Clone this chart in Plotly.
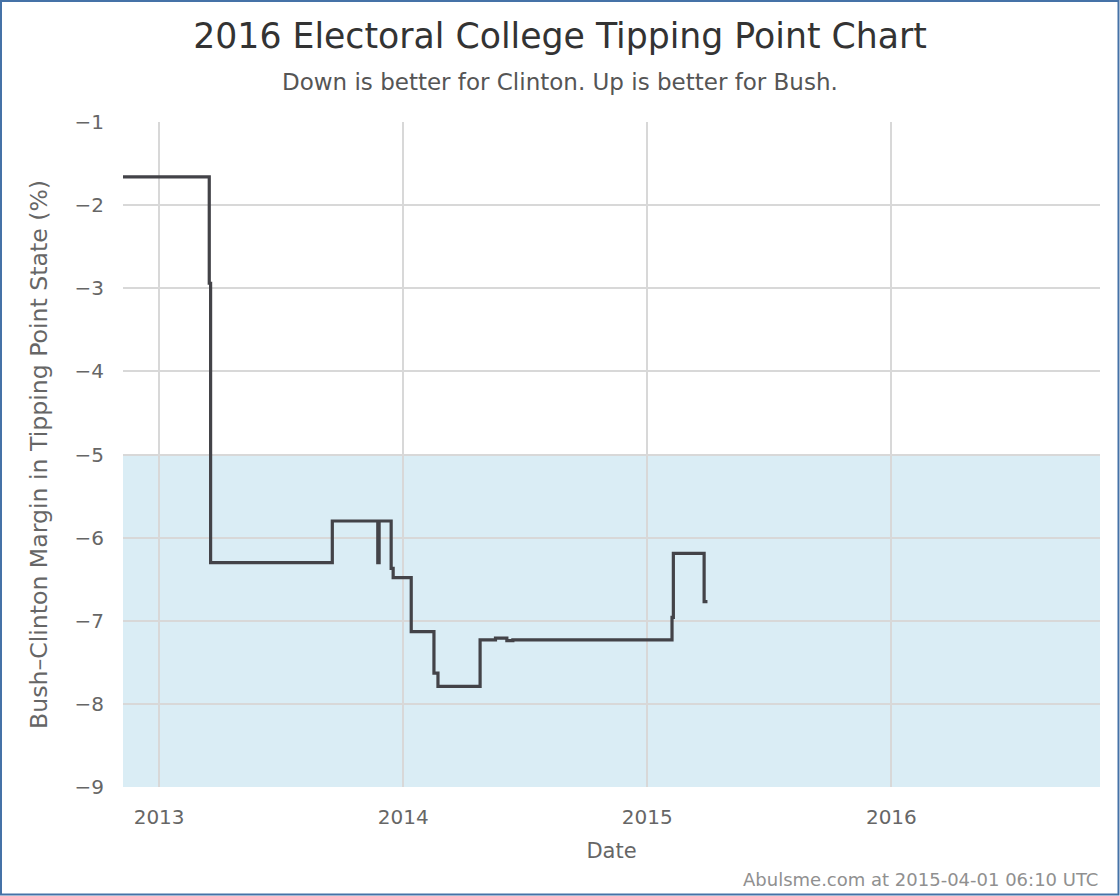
import plotly.graph_objects as go

dates = ["2012-11-01", "2013-03-17", "2013-03-19", "2013-09-17", "2013-11-24", "2013-11-26",
         "2013-12-14", "2013-12-17", "2014-01-13", "2014-02-16", "2014-02-22", "2014-04-26",
         "2014-05-19", "2014-06-05", "2014-06-14", "2015-02-07", "2015-02-09", "2015-03-27",
         "2015-04-01"]
values = [-1.66, -2.94, -6.30, -5.80, -6.30, -5.80,
          -6.37, -6.48, -7.13, -7.63, -7.79, -7.23,
          -7.21, -7.24, -7.23, -6.96, -6.19, -6.77,
          -6.77]

x_range = ["2012-11-08", "2016-11-08"]
y_range = [-9, -1]
y_ticks = [-9, -8, -7, -6, -5, -4, -3, -2, -1]
band = [-9, -5]

FONT = "DejaVu Sans"
W, H = 1120, 896
L, R, T, B = 123, 20, 122, 109
pw, ph = W - L - R, H - T - B

fig = go.Figure()
fig.add_trace(go.Scatter(
    x=dates, y=values, mode="lines", line_shape="hv",
    line=dict(color="#434348", width=3.2), hoverinfo="skip", showlegend=False,
))

fig.add_shape(type="rect", xref="paper", yref="y", x0=0, x1=1, y0=band[0], y1=band[1],
              fillcolor="#daedf5", line_width=0, layer="below")

# outer border
fig.add_shape(type="rect", xref="paper", yref="paper",
              x0=(-L + 1) / pw, x1=1 + (R - 1.5) / pw,
              y0=(-B + 1.5) / ph, y1=1 + (T - 1) / ph,
              line=dict(color="#4572a7", width=2), fillcolor="rgba(0,0,0,0)")

fig.update_layout(
    width=W, height=H,
    margin=dict(l=L, r=R, t=T, b=B),
    paper_bgcolor="white", plot_bgcolor="white",
    font=dict(family=FONT, color="#666666"),
    title=dict(text="2016 Electoral College Tipping Point Chart",
               x=0.5, xref="container", xanchor="center",
               y=1 - 36 / H, yref="container", yanchor="middle",
               font=dict(size=34.7, color="#333333", family=FONT)),
    xaxis=dict(range=x_range, type="date", dtick="M12", tick0="2013-01-01", tickformat="%Y",
               showgrid=True, gridcolor="#d8d8d8", gridwidth=1.5, zeroline=False,
               showline=False, ticks="", tickfont=dict(size=20, color="#666666"),
               ticklabelstandoff=16,
               title=dict(text="Date", font=dict(size=21, color="#666666"), standoff=15)),
    yaxis=dict(range=y_range, tickvals=y_ticks, ticktext=[f"\u2212{abs(v)}" for v in y_ticks],
               showgrid=True, gridcolor="#d8d8d8", gridwidth=1.5, zeroline=False,
               showline=False, ticks="", tickfont=dict(size=20, color="#666666"),
               ticklabelstandoff=18,
               title=dict(text="Bush\u2013Clinton Margin in Tipping Point State (%)",
                          font=dict(size=23.6, color="#666666"), standoff=20)),
    annotations=[
        dict(text="Down is better for Clinton. Up is better for Bush.", xref="paper", yref="paper",
             x=(W / 2 - L) / pw, y=1 + (T - 82) / ph, xanchor="center", yanchor="middle",
             showarrow=False, font=dict(size=23, color="#555555", family=FONT)),
        dict(text="Abulsme.com at 2015-04-01 06:10 UTC", xref="paper", yref="paper",
             x=1 + (R - 20) / pw, y=-(879 - 787) / ph, xanchor="right", yanchor="middle",
             showarrow=False, font=dict(size=18, color="#909090", family=FONT)),
    ],
)

fig.write_html("out.html", config={"displayModeBar": False},
               post_script="document.body.style.margin='0';")
